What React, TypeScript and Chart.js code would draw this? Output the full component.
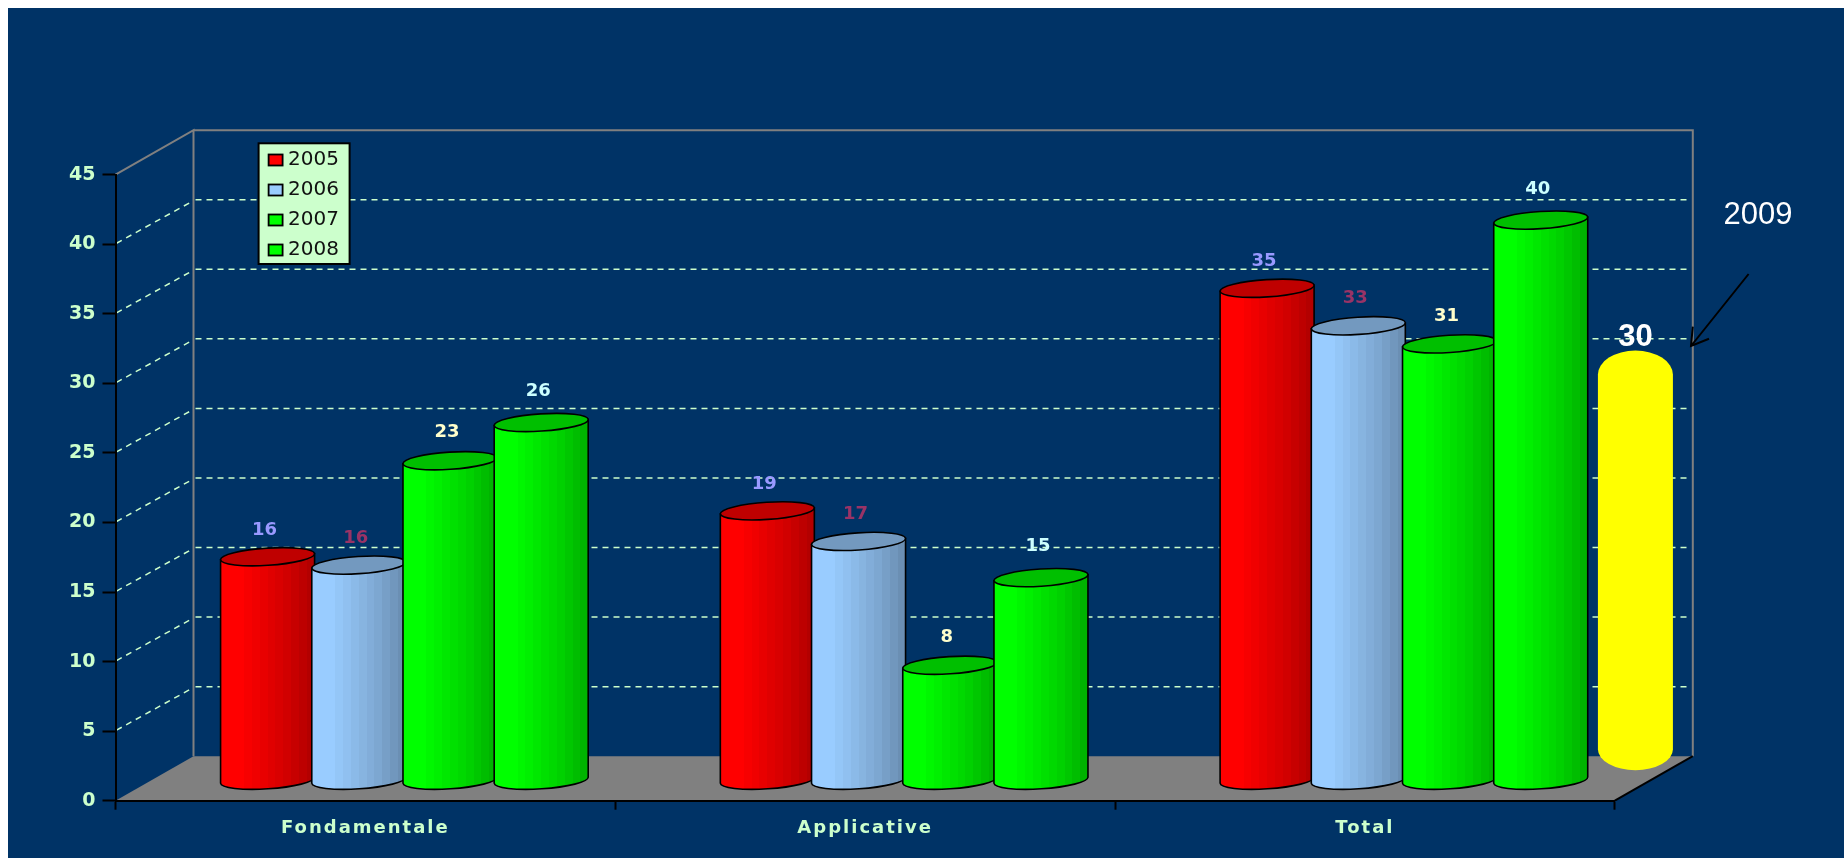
import React, { useEffect, useRef } from "react";
import { Chart, registerables, BarElement, CategoryScale, defaults } from "chart.js";

// ---- data ----
const categories = ["Fondamentale", "Applicative", "Total"];
const seriesNames = ["2005", "2006", "2007", "2008"];
const values2005 = [16.1, 19.4, 35.4];
const values2006 = [15.5, 17.2, 32.7];
const values2007 = [23.0, 8.3, 31.4];
const values2008 = [25.75, 14.6, 40.3];
const values2009 = [null, null, 30.2];
const printed2005 = ["16", "19", "35"];
const printed2006 = ["16", "17", "33"];
const printed2007 = ["23", "8", "31"];
const printed2008 = ["26", "15", "40"];
const printed2009 = ["", "", "30"];
const annotationText = "2009";

// ---- style ----
const BG = "#003366";
const PALE = "#ccffcc";
const FONT_AXIS = "'DejaVu Sans'";
const DEPTH_X = 78;
const DEPTH_Y = 44.5;
const BAR_DY = 20;
const CAPSULE_DX = 270.5;
const CAPSULE_DY = 30;

const BANDS = [1, 1, 1, 0.97, 0.94, 0.91, 0.88, 0.85, 0.82, 0.78, 0.74, 0.7];

function shade(hex: string, f: number) {
  const n = parseInt(hex.slice(1), 16);
  const rgb = [(n >> 16) & 255, (n >> 8) & 255, n & 255];
  return `rgb(${rgb.map((c) => Math.round(c * f)).join(",")})`;
}

class CylinderBar extends BarElement {
  static id = "cylinderBar";
  static defaults = { ...(BarElement as any).defaults, cyl: "cylinder" };
  draw(ctx: any) {
    const { x, y, base, width } = (this as any).getProps(["x", "y", "base", "width"]);
    const o = (this as any).options;
    if (o.cyl === "capsule") {
      const cx = x + CAPSULE_DX;
      const top = y - CAPSULE_DY;
      const bot = base - CAPSULE_DY;
      const rx = width / 2;
      const ryT = 24;
      const ryB = 21;
      ctx.save();
      ctx.fillStyle = o.backgroundColor;
      ctx.beginPath();
      ctx.ellipse(cx, top + ryT, rx, ryT, 0, Math.PI, 0);
      ctx.ellipse(cx, bot - ryB, rx, ryB, 0, 0, Math.PI);
      ctx.closePath();
      ctx.fill();
      ctx.restore();
      return;
    }
    const cx = x + DEPTH_X / 2;
    const cyT = y - BAR_DY;
    const cyB = base - BAR_DY;
    const rx = (width + 3) / 2;
    const ry = 8.6;
    const rot = -0.065;
    const color = o.backgroundColor;
    ctx.save();
    const g = ctx.createLinearGradient(cx - rx, 0, cx + rx, 0);
    BANDS.forEach((f, i) => {
      g.addColorStop(i / BANDS.length, shade(color, f));
      g.addColorStop((i + 1) / BANDS.length, shade(color, f));
    });
    const dx = rx * Math.cos(rot);
    const dy = rx * Math.sin(rot);
    ctx.beginPath();
    ctx.moveTo(cx - dx, cyT - dy);
    ctx.lineTo(cx - dx, cyB - dy);
    ctx.ellipse(cx, cyB, rx, ry, rot, Math.PI, 0, true);
    ctx.lineTo(cx + dx, cyT + dy);
    ctx.closePath();
    ctx.fillStyle = g;
    ctx.fill();
    ctx.strokeStyle = "#000";
    ctx.lineWidth = 1.6;
    ctx.stroke();
    ctx.beginPath();
    ctx.ellipse(cx, cyT, rx, ry, rot, 0, Math.PI * 2);
    ctx.fillStyle = shade(color, 0.75);
    ctx.fill();
    ctx.stroke();
    ctx.restore();
  }
}

class SpacedCategory extends CategoryScale {
  static id = "spacedCategory";
  drawLabels(area: any) {
    const ctx = (this as any).ctx;
    ctx.save();
    ctx.letterSpacing = "2px";
    super.drawLabels(area);
    ctx.restore();
  }
}

Chart.register(...registerables, CylinderBar, SpacedCategory as any);
(defaults as any).datasets.bar.dataElementType = "cylinderBar";

const scene3d = {
  id: "scene3d",
  beforeDraw(chart: any) {
    const { ctx, scales } = chart;
    const { x: xs, y: ys } = scales;
    const L = xs.left;
    const R = xs.right;
    const B = ys.bottom;
    const T = ys.top;
    ctx.save();
    ctx.fillStyle = BG;
    ctx.fillRect(0, 0, chart.width, chart.height);
    // floor
    ctx.fillStyle = "#808080";
    ctx.beginPath();
    ctx.moveTo(L, B);
    ctx.lineTo(L + DEPTH_X, B - DEPTH_Y);
    ctx.lineTo(R + DEPTH_X, B - DEPTH_Y);
    ctx.lineTo(R, B);
    ctx.closePath();
    ctx.fill();
    // wall frame
    ctx.strokeStyle = "#808080";
    ctx.lineWidth = 2;
    ctx.beginPath();
    ctx.moveTo(L, T);
    ctx.lineTo(L + DEPTH_X, T - DEPTH_Y);
    ctx.lineTo(L + DEPTH_X, B - DEPTH_Y);
    ctx.moveTo(L + DEPTH_X, T - DEPTH_Y);
    ctx.lineTo(R + DEPTH_X, T - DEPTH_Y);
    ctx.lineTo(R + DEPTH_X, B - DEPTH_Y);
    ctx.stroke();
    ctx.strokeStyle = "#000";
    ctx.beginPath();
    ctx.moveTo(R, B);
    ctx.lineTo(R + DEPTH_X, B - DEPTH_Y);
    ctx.stroke();
    // grid
    ctx.strokeStyle = PALE;
    ctx.lineWidth = 1.5;
    ctx.setLineDash([6, 5]);
    ys.ticks.forEach((t: any) => {
      if (t.value === 0 || t.value === 45) return;
      const y = ys.getPixelForValue(t.value);
      ctx.beginPath();
      ctx.moveTo(L + 1, y - 1);
      ctx.lineTo(L + DEPTH_X - 2, y - DEPTH_Y + 2);
      ctx.stroke();
      ctx.beginPath();
      ctx.moveTo(L + DEPTH_X + 2, y - DEPTH_Y);
      ctx.lineTo(R + DEPTH_X - 6, y - DEPTH_Y);
      ctx.stroke();
    });
    ctx.restore();
  },
  beforeDatasetsDraw(chart: any) {
    const { ctx, data } = chart;
    const metas = chart.getSortedVisibleDatasetMetas();
    metas.forEach((m: any) => m.controller.draw());

    // value labels
    metas.forEach((m: any) => {
      const ds = data.datasets[m.index];
      ctx.save();
      ctx.fillStyle = ds.labelColor;
      ctx.font = ds.labelFont;
      ctx.textAlign = "center";
      ctx.textBaseline = "middle";
      m.data.forEach((el: any, i: number) => {
        if (!ds.printed[i]) return;
        ctx.fillText(ds.printed[i], el.x + ds.labelDx, el.y + ds.labelDy);
      });
      ctx.restore();
    });

    // legend
    const lx = 250.6;
    const ly = 135.3;
    const lw = 91;
    const lh = 120.7;
    ctx.save();
    ctx.fillStyle = PALE;
    ctx.strokeStyle = "#000";
    ctx.lineWidth = 2;
    ctx.fillRect(lx, ly, lw, lh);
    ctx.strokeRect(lx, ly, lw, lh);
    ctx.textBaseline = "middle";
    ctx.textAlign = "left";
    ctx.font = "20px " + FONT_AXIS;
    data.datasets.slice(0, seriesNames.length).forEach((ds: any, i: number) => {
      const cy = ly + 16.7 + i * 30;
      ctx.fillStyle = ds.backgroundColor;
      ctx.fillRect(10 + lx, cy - 5.5, 14, 11);
      ctx.lineWidth = 1.8;
      ctx.strokeRect(10 + lx, cy - 5.5, 14, 11);
      ctx.fillStyle = "#111";
      ctx.fillText(ds.label, lx + 29.5, cy - 0.5);
    });
    ctx.restore();

    // annotation
    ctx.save();
    ctx.fillStyle = "#fff";
    ctx.font = "31px 'Liberation Sans'";
    ctx.textBaseline = "middle";
    ctx.textAlign = "left";
    ctx.fillText(annotationText, 1715.5, 207);
    ctx.strokeStyle = "#000";
    ctx.lineWidth = 2;
    ctx.beginPath();
    ctx.moveTo(1740.6, 266);
    ctx.lineTo(1683, 338);
    ctx.moveTo(1684.8, 318.7);
    ctx.lineTo(1683, 338);
    ctx.lineTo(1701, 330.7);
    ctx.stroke();
    ctx.restore();
    return false;
  },
};

function mkSet(label: string, data: any[], color: string, printed: string[], labelColor: string, labelDy: number) {
  return {
    label,
    data,
    backgroundColor: color,
    printed,
    labelColor,
    labelFont: "bold 18px " + FONT_AXIS,
    labelDx: 36,
    labelDy,
    cyl: "cylinder",
  };
}

export default function App() {
  const ref = useRef<HTMLCanvasElement>(null);
  useEffect(() => {
    document.body.style.margin = "8px 0 0 8px";
    document.body.style.overflow = "hidden";
    const chart = new Chart(ref.current as any, {
      type: "bar",
      data: {
        labels: categories,
        datasets: [
          mkSet(seriesNames[0], values2005, "#ff0000", printed2005, "#9999ff", -46.5),
          mkSet(seriesNames[1], values2006, "#99ccff", printed2006, "#993366", -47),
          mkSet(seriesNames[2], values2007, "#00ff00", printed2007, "#ffffcc", -48),
          mkSet(seriesNames[3], values2008, "#00ff00", printed2008, "#ccffff", -51),
          {
            label: "2009",
            data: values2009,
            backgroundColor: "#ffff00",
            grouped: false,
            barThickness: 75,
            printed: printed2009,
            labelColor: "#ffffff",
            labelFont: "bold 31px 'Liberation Sans'",
            labelDx: CAPSULE_DX,
            labelDy: -43,
            cyl: "capsule",
          } as any,
        ],
      },
      options: {
        responsive: false,
        animation: false,
        devicePixelRatio: 1,
        layout: { padding: { left: 0, top: 166.7, right: 229.2, bottom: 0 } },
        datasets: { bar: { categoryPercentage: 0.73, barPercentage: 1 } },
        plugins: { legend: { display: false }, tooltip: { enabled: false }, title: { display: false } },
        scales: {
          x: {
            type: "spacedCategory",
            offset: true,
            grid: {
              offset: true,
              drawOnChartArea: false,
              drawTicks: true,
              tickLength: 9,
              tickColor: "#000",
              tickWidth: 2,
            },
            border: { color: "#000", width: 2 },
            ticks: {
              color: PALE,
              font: { family: FONT_AXIS, size: 18, weight: "bold" },
              padding: 8,
              maxRotation: 0,
              autoSkip: false,
            },
            afterFit(s: any) {
              s.height = 57.3;
            },
          },
          y: {
            min: 0,
            max: 45,
            beginAtZero: true,
            grid: {
              drawOnChartArea: false,
              drawTicks: true,
              tickLength: 13,
              tickColor: "#000",
              tickWidth: 2,
            },
            border: { color: "#000", width: 2 },
            ticks: {
              stepSize: 5,
              color: PALE,
              font: { family: FONT_AXIS, size: 19, weight: "bold" },
              padding: 7,
            },
            afterFit(s: any) {
              s.width = 107.5;
            },
          },
        },
      } as any,
      plugins: [scene3d],
    });
    return () => chart.destroy();
  }, []);
  return <canvas ref={ref} width={1836} height={850} style={{ display: "block" }} />;
}
